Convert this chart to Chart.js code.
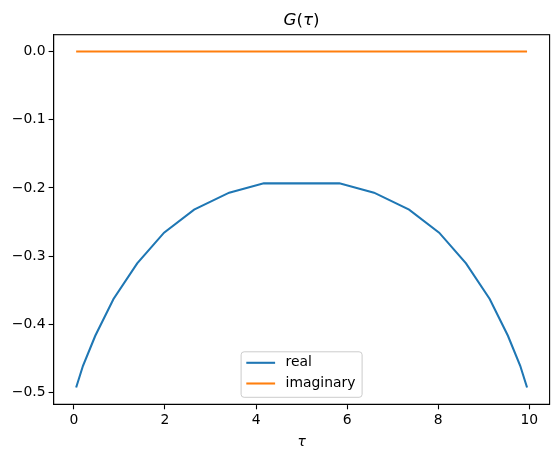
<!DOCTYPE html>
<html><head><meta charset="utf-8">
<script src="https://cdn.jsdelivr.net/npm/chart.js@4"></script>
<style>html,body{margin:0;padding:0;background:#fff}</style>
</head><body>
<canvas id="c" width="559" height="457"></canvas>
<script>
const tau = [0.05, 0.2, 0.47, 0.87, 1.39, 1.98, 2.64, 3.41, 4.17, 5.83, 6.59, 7.36, 8.02, 8.61, 9.13, 9.53, 9.8, 9.95];
const realValues = [-0.4926, -0.4607, -0.4167, -0.3629, -0.3106, -0.2656, -0.2318, -0.2069, -0.1933, -0.1933, -0.2069, -0.2318, -0.2656, -0.3106, -0.3629, -0.4167, -0.4607, -0.4926];
const imagValues = [0, 0, 0, 0, 0, 0, 0, 0, 0, 0, 0, 0, 0, 0, 0, 0, 0, 0];
const seriesNames = ['real', 'imaginary'];
const seriesColors = ['#1f77b4', '#ff7f0e'];
const xTicks = [0, 2, 4, 6, 8, 10];
const yTicks = [0.0, -0.1, -0.2, -0.3, -0.4, -0.5];
const titleParts = [['G', 'italic'], ['(', 'normal'], ['τ', 'italic'], [')', 'normal']];
const xLabel = 'τ';

const FONT = 'DejaVu Sans';

function toPoints(xs, ys) { return xs.map((x, i) => ({x: x, y: ys[i]})); }

const decor = {
  id: 'decor',
  afterDraw(chart) {
    const ctx = chart.ctx, a = chart.chartArea;
    ctx.save();
    // spines
    ctx.strokeStyle = '#000'; ctx.lineWidth = 1.1;
    ctx.strokeRect(a.left, a.top, a.right - a.left, a.bottom - a.top);
    // title (mixed italic / upright)
    const size = 16.7;
    let parts = titleParts.map(p => { ctx.font = p[1] + ' ' + size + 'px "' + FONT + '"'; return {t: p[0], s: p[1], w: ctx.measureText(p[0]).width}; });
    const total = parts.reduce((s, p) => s + p.w, 0);
    let x = (a.left + a.right) / 2 - total / 2;
    ctx.fillStyle = '#000'; ctx.textBaseline = 'alphabetic'; ctx.textAlign = 'left';
    parts.forEach(p => { ctx.font = p.s + ' ' + size + 'px "' + FONT + '"'; ctx.fillText(p.t, x, a.top - 9.5); x += p.w; });
    // x label
    ctx.font = 'italic 13.9px "' + FONT + '"';
    ctx.textAlign = 'center'; ctx.textBaseline = 'alphabetic';
    ctx.fillText(xLabel, (a.left + a.right) / 2, a.bottom + 42);
    // legend
    const bx0 = 241.5, bw = 121, bh = 45.5;
    const bx = (a.left + a.right) / 2 - bw / 2, by = a.bottom - 7 - bh;
    const r = 3;
    ctx.beginPath();
    ctx.moveTo(bx + r, by); ctx.lineTo(bx + bw - r, by); ctx.arcTo(bx + bw, by, bx + bw, by + r, r);
    ctx.lineTo(bx + bw, by + bh - r); ctx.arcTo(bx + bw, by + bh, bx + bw - r, by + bh, r);
    ctx.lineTo(bx + r, by + bh); ctx.arcTo(bx, by + bh, bx, by + bh - r, r);
    ctx.lineTo(bx, by + r); ctx.arcTo(bx, by, bx + r, by, r); ctx.closePath();
    ctx.fillStyle = 'rgba(255,255,255,0.8)'; ctx.fill();
    ctx.strokeStyle = '#cccccc'; ctx.lineWidth = 1; ctx.stroke();
    chart.data.datasets.forEach((ds, i) => {
      const ly = by + 11 + i * 20.7;
      ctx.strokeStyle = ds.borderColor; ctx.lineWidth = 2.08;
      ctx.beginPath(); ctx.moveTo(bx + 5.2, ly); ctx.lineTo(bx + 34, ly); ctx.stroke();
      ctx.fillStyle = '#000'; ctx.font = '13.9px "' + FONT + '"';
      ctx.textAlign = 'left'; ctx.textBaseline = 'middle';
      ctx.fillText(ds.label, bx + 44.5, ly);
    });
    ctx.restore();
  }
};

new Chart(document.getElementById('c'), {
  type: 'line',
  data: {
    datasets: [
      {label: seriesNames[0], data: toPoints(tau, realValues), borderColor: seriesColors[0], backgroundColor: seriesColors[0], borderWidth: 2.08, pointRadius: 0, tension: 0, fill: false},
      {label: seriesNames[1], data: toPoints(tau, imagValues), borderColor: seriesColors[1], backgroundColor: seriesColors[1], borderWidth: 2.08, pointRadius: 0, tension: 0, fill: false}
    ]
  },
  options: {
    responsive: false, animation: false, devicePixelRatio: 1,
    layout: {padding: {top: 34.7, right: 9.4, left: 0, bottom: 0}},
    plugins: {legend: {display: false}, title: {display: false}, tooltip: {enabled: false}},
    scales: {
      x: {
        type: 'linear', min: -0.445, max: 10.445,
        afterBuildTicks: s => { s.ticks = xTicks.map(v => ({value: v})); },
        afterFit: s => { s.height = 52.7; },
        ticks: {color: '#000', font: {family: FONT, size: 13.9}, padding: 3, maxRotation: 0, autoSkip: false, callback: v => String(v)},
        grid: {drawOnChartArea: false, drawTicks: true, tickLength: 5, tickColor: '#000', tickWidth: 1.1},
        border: {display: true, color: '#000', width: 1.1}
      },
      y: {
        type: 'linear', min: -0.5172, max: 0.0246,
        afterBuildTicks: s => { s.ticks = yTicks.map(v => ({value: v})); },
        afterFit: s => { s.width = 53.6; },
        ticks: {color: '#000', font: {family: FONT, size: 13.9}, padding: 3, autoSkip: false, callback: v => (v < -1e-9 ? '\u2212' : '') + Math.abs(v).toFixed(1)},
        grid: {drawOnChartArea: false, drawTicks: true, tickLength: 5, tickColor: '#000', tickWidth: 1.1},
        border: {display: true, color: '#000', width: 1.1}
      }
    }
  },
  plugins: [decor]
});
</script>
</body></html>
